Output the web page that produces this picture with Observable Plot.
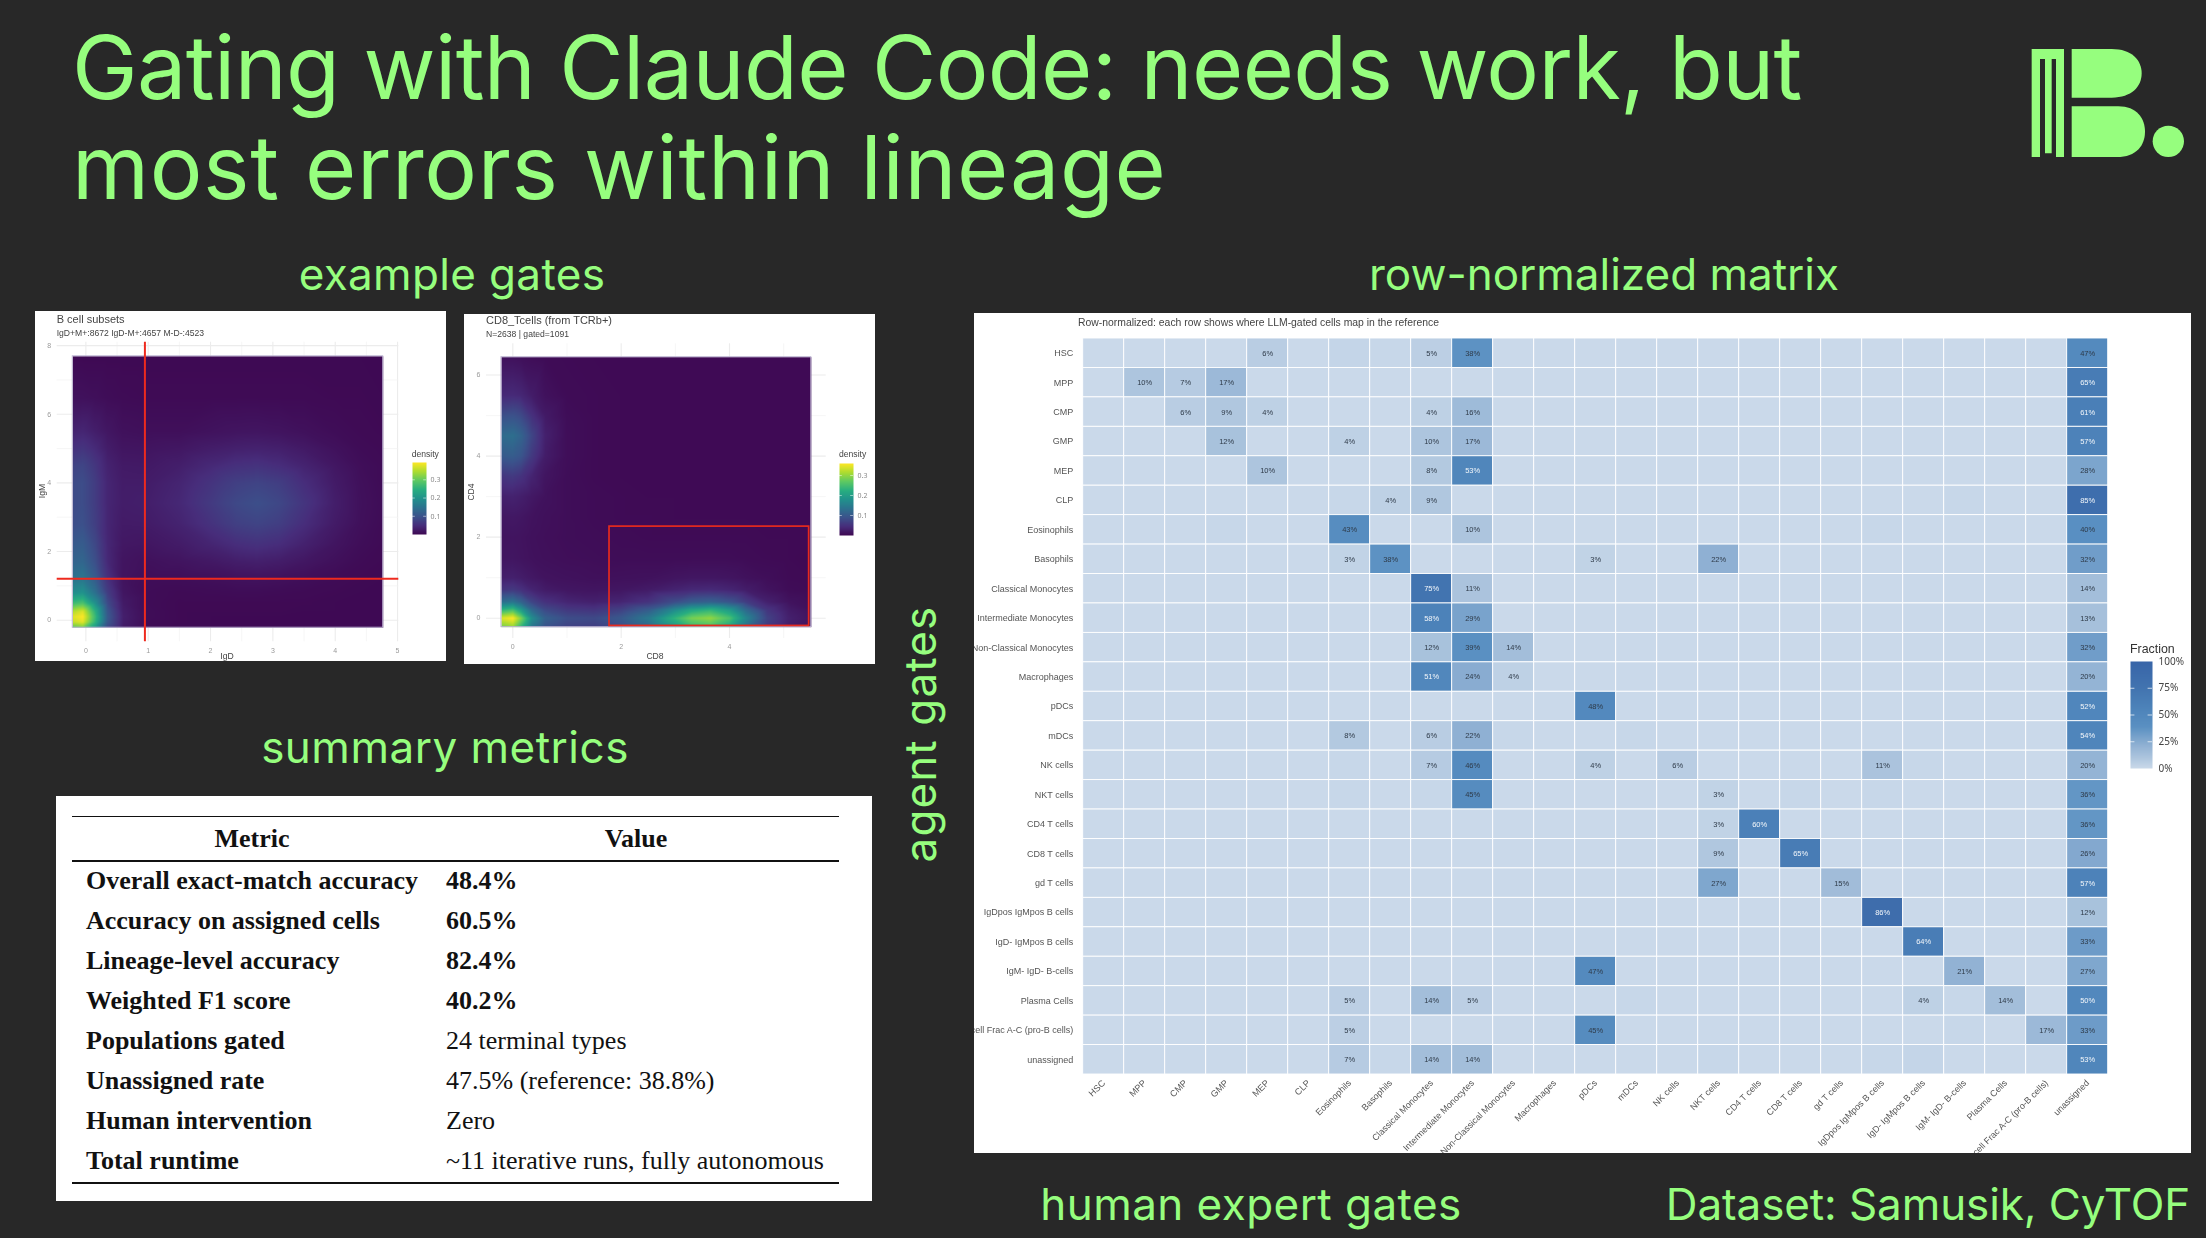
<!DOCTYPE html>
<html><head><meta charset="utf-8">
<script src="https://cdn.jsdelivr.net/npm/d3@7"></script>
<script src="https://cdn.jsdelivr.net/npm/@observablehq/plot@0.6"></script>
<style>
html,body{margin:0;padding:0;background:#282828;}
#slide{position:relative;width:2206px;height:1238px;background:#282828;overflow:hidden;font-family:"Liberation Sans",sans-serif;}
.abs{position:absolute;white-space:pre;line-height:1;}
.head{position:absolute;white-space:pre;line-height:1;color:#96fe7e;font-family:Inter,sans-serif;font-weight:400;transform:translate(-50%,-50%);}
.box{position:absolute;background:#fff;overflow:hidden;}
.box svg{position:absolute;left:0;top:0;overflow:hidden;background:transparent;max-width:none;}
.soft{filter:blur(.45px);}
</style></head><body>
<div id="slide"></div>
<script>
const rowLabels=["HSC","MPP","CMP","GMP","MEP","CLP","Eosinophils","Basophils","Classical Monocytes","Intermediate Monocytes","Non-Classical Monocytes","Macrophages","pDCs","mDCs","NK cells","NKT cells","CD4 T cells","CD8 T cells","gd T cells","IgDpos IgMpos B cells","IgD- IgMpos B cells","IgM- IgD- B-cells","Plasma Cells","B cell Frac A-C (pro-B cells)","unassigned"];
// row -> {column index: percent}
const matrixValues=[
{4:6,6:2,7:1,8:5,9:38,24:47},
{1:10,2:7,3:17,24:65},
{2:6,3:9,4:4,8:4,9:16,24:61},
{3:12,6:4,8:10,9:17,24:57},
{4:10,8:8,9:53,24:28},
{6:1,7:4,8:9,21:1,24:85},
{3:1,6:43,9:10,19:1,24:40},
{6:3,7:38,12:3,15:22,24:32},
{8:75,9:11,24:14},
{8:58,9:29,24:13},
{8:12,9:39,10:14,24:32},
{8:51,9:24,10:4,24:20},
{12:48,24:52},
{6:8,8:6,9:22,10:1,13:1,24:54},
{6:1,8:7,9:46,12:4,14:6,19:11,20:1,24:20},
{6:1,8:1,9:45,15:3,17:1,19:1,24:36},
{15:3,16:60,24:36},
{15:9,17:65,24:26},
{15:27,18:15,24:57},
{19:86,24:12},
{20:64,24:33},
{12:47,21:21,24:27},
{6:5,8:14,9:5,13:1,20:4,21:1,22:14,24:50},
{6:5,12:45,21:1,23:17,24:33},
{6:7,7:1,8:14,9:14,15:1,19:1,20:2,24:53}
];
const fractionDomain=[0,10,22,39,55,75,100];
const fractionRange=["#cad9ea","#adc5de","#8fb0d3","#5a90c2","#4e84ba","#4274b0","#3865a8"];
const fractionTicks=[0,25,50,75,100];
const viridisStops=["#3e0852","#472d7b","#3b528b","#2c728e","#21918c","#28ae80","#5ec962","#addc30","#fde725"];

const metricRows=["Overall exact-match accuracy","Accuracy on assigned cells","Lineage-level accuracy","Weighted F1 score","Populations gated","Unassigned rate","Human intervention","Total runtime"];
const metricValues=["48.4%","60.5%","82.4%","40.2%","24 terminal types","47.5% (reference: 38.8%)","Zero","~11 iterative runs, fully autonomous"];
const metricBold=[true,true,true,true,false,false,false,false];

// density panel A
const bX=[-0.21,-0.05,0.15,0.35,0.6,1,1.5,2,2.4,2.75,3.1,3.5,4,4.4,4.77];
const bY=[7.69,6.5,5.5,5,4.5,4,3.4,2.8,2.2,1.7,1.2,0.8,0.5,0.25,0.1,-0.05,-0.22];
const bDensity=[
[.002,.002,.002,.002,.002,.002,.002,.002,.002,.002,.002,.002,.002,.002,.002],
[.012,.012,.01,.007,.005,.004,.004,.004,.004,.004,.004,.004,.003,.003,.002],
[.036,.04,.03,.02,.012,.01,.01,.014,.017,.018,.016,.012,.007,.004,.003],
[.055,.06,.046,.028,.018,.017,.02,.028,.033,.035,.032,.024,.013,.006,.004],
[.078,.082,.062,.036,.024,.023,.03,.044,.054,.057,.05,.037,.02,.009,.005],
[.088,.092,.07,.04,.027,.027,.038,.058,.074,.08,.072,.05,.025,.011,.005],
[.088,.092,.07,.04,.028,.03,.042,.066,.086,.094,.084,.06,.029,.012,.006],
[.092,.097,.073,.04,.025,.026,.036,.056,.074,.08,.072,.05,.025,.011,.005],
[.11,.115,.085,.042,.021,.019,.026,.038,.05,.055,.049,.034,.017,.008,.004],
[.125,.13,.095,.044,.017,.012,.016,.022,.029,.032,.028,.02,.011,.005,.003],
[.15,.155,.115,.055,.016,.008,.008,.01,.013,.014,.012,.009,.005,.003,.002],
[.19,.2,.145,.07,.019,.006,.004,.005,.006,.006,.005,.004,.003,.002,.002],
[.265,.28,.195,.088,.025,.006,.003,.003,.003,.003,.003,.003,.002,.002,.002],
[.35,.375,.25,.105,.03,.007,.003,.003,.003,.003,.003,.002,.002,.002,.002],
[.375,.395,.265,.11,.032,.007,.003,.002,.002,.002,.002,.002,.002,.002,.002],
[.36,.38,.255,.105,.03,.006,.003,.002,.002,.002,.002,.002,.002,.002,.002],
[.29,.31,.21,.085,.025,.005,.002,.002,.002,.002,.002,.002,.002,.002,.002]
];
// density panel B
const tX=[-0.21,0,0.15,0.35,0.6,1,1.5,2,2.5,3,3.3,3.65,4,4.3,4.7,5.1,5.51];
const tY=[6.44,5.5,5,4.5,4,3.5,3,2.5,2,1.5,1,0.7,0.4,0.2,0,-0.22];
const tDensity=[
[.012,.012,.01,.007,.005,.004,.003,.003,.003,.003,.003,.003,.003,.003,.003,.003,.003],
[.04,.042,.038,.025,.012,.005,.004,.003,.003,.003,.003,.003,.003,.003,.003,.003,.003],
[.085,.09,.08,.05,.022,.007,.004,.003,.003,.003,.003,.003,.003,.003,.003,.003,.003],
[.125,.13,.115,.075,.03,.008,.004,.003,.003,.003,.003,.003,.003,.003,.003,.003,.003],
[.10,.105,.095,.06,.025,.008,.004,.003,.003,.003,.003,.003,.003,.003,.003,.003,.003],
[.055,.06,.052,.034,.016,.007,.004,.003,.003,.003,.003,.003,.003,.003,.003,.003,.003],
[.03,.032,.028,.02,.012,.007,.005,.004,.003,.003,.003,.003,.003,.003,.003,.003,.003],
[.018,.02,.018,.013,.01,.007,.005,.004,.004,.003,.003,.003,.003,.003,.003,.003,.003],
[.014,.015,.014,.011,.009,.007,.006,.005,.004,.004,.004,.004,.004,.004,.003,.003,.003],
[.016,.017,.015,.012,.01,.008,.007,.006,.006,.006,.006,.006,.006,.005,.004,.003,.002],
[.028,.03,.026,.02,.014,.012,.01,.011,.012,.016,.018,.018,.016,.012,.008,.004,.003],
[.055,.06,.05,.035,.024,.018,.016,.018,.024,.034,.04,.042,.036,.026,.014,.006,.004],
[.13,.14,.115,.075,.05,.036,.03,.036,.052,.085,.105,.112,.095,.065,.03,.014,.008],
[.235,.255,.2,.125,.08,.06,.055,.07,.105,.175,.215,.235,.195,.125,.055,.024,.012],
[.34,.36,.29,.175,.11,.085,.08,.1,.145,.235,.285,.3,.255,.165,.07,.03,.015],
[.28,.30,.235,.14,.09,.07,.065,.085,.12,.19,.235,.25,.21,.135,.06,.025,.012]
];
const slide=document.getElementById("slide");
function box(x,y,w,h,cls){const d=document.createElement("div");d.className="box "+(cls||"");d.style.cssText=`left:${x}px;top:${y}px;width:${w}px;height:${h}px`;slide.appendChild(d);return d;}
function txt(parent,s,x,y,css){const d=document.createElement("div");d.className="abs";d.textContent=s;d.style.cssText=`left:${x}px;top:${y}px;transform:translateY(-50%);${css}`;parent.appendChild(d);return d;}
function head(s,x,y,ls,extra){const d=document.createElement("div");d.className="head";d.textContent=s;d.style.cssText=`left:${x}px;top:${y}px;font-size:44px;letter-spacing:${ls}px;${extra||""}`;slide.appendChild(d);return d;}

// headings
[["Gating with Claude Code: needs work, but",17,-0.62],["most errors within lineage",117,0.63]].forEach(([s,top,ls])=>{
 const t=document.createElement("div");t.className="abs";t.style.cssText=`left:72px;top:${top}px;color:#96fe7e;font-family:Inter,sans-serif;font-size:88px;line-height:100px;letter-spacing:${ls}px;`;t.textContent=s;slide.appendChild(t);
});
head("example gates",452,274,.35);
head("row-normalized matrix",1604,274,0);
head("summary metrics",445,747,.5);
head("human expert gates",1251,1204,.45);
head("Dataset: Samusik, CyTOF",1928,1204,-.1);
head("agent gates",920,734,1.1,"transform:translate(-50%,-50%) rotate(-90deg);");

// logo
slide.insertAdjacentHTML("beforeend",`<svg style="position:absolute;left:1990px;top:30px" width="216" height="150" viewBox="0 0 648 450" aria-label="logo"><g fill="#96fe7e"><path fill-rule="evenodd" d="M125 57H222V381H198V87H185V370H165V87H150V381H125Z"/><path d="M245 57H365C425 57 455 90 455 130C455 170 425 203 365 203H245Z"/><path d="M245 229H385C440 229 465 265 465 305C465 345 440 381 380 381H245Z"/><circle cx="535" cy="334" r="47"/></g></svg>`);

// matrix
const matrixBox=box(974,313,1217,840,"soft");
const cells=[];
rowLabels.forEach((r,i)=>rowLabels.forEach((c,j)=>cells.push({row:r,col:c,v:matrixValues[i][j]||0})));
const fractionColor={type:"linear",domain:fractionDomain,range:fractionRange};
const matrix=Plot.plot({
 width:1217,height:840,marginLeft:108.7,marginRight:83.3,marginTop:25,marginBottom:79,
 style:{background:"transparent",overflow:"hidden",fontFamily:"Liberation Sans"},
 x:{type:"band",domain:rowLabels,padding:0,round:false,label:null},
 y:{type:"band",domain:rowLabels,padding:0,round:false,label:null},
 color:fractionColor,
 marks:[
  Plot.cell(cells,{x:"col",y:"row",fill:"v",stroke:"#ffffff",strokeWidth:.9}),
  Plot.text(cells.filter(d=>d.v>=3),{x:"col",y:"row",text:d=>d.v+"%",fontSize:7.5,fill:d=>d.v>=50?"#f2f6fa":"#2e3a48"}),
  Plot.axisY({tickSize:0,tickPadding:10,fontSize:9,color:"#555",label:null,tickFormat:d=>d}),
  Plot.axisX({tickSize:0,tickPadding:7,fontSize:9,color:"#555",label:null,tickRotate:-45,tickFormat:d=>d})
 ]});
matrixBox.appendChild(matrix);
txt(matrixBox,"Row-normalized: each row shows where LLM-gated cells map in the reference",104,10,"font-size:10.4px;color:#444;");
txt(matrixBox,"Fraction",1156,336,"font-size:12.4px;color:#333;");

// fraction legend
const fracLegend=Plot.plot({
 width:70,height:120,marginLeft:0,marginRight:48,marginTop:10,marginBottom:3,
 style:{background:"transparent",overflow:"visible",fontFamily:"Liberation Sans"},
 x:{domain:[0,1],axis:null},
 y:{domain:[0,100],label:null},
 color:fractionColor,
 marks:[
  Plot.raster({x1:0,x2:1,y1:0,y2:100,fill:(x,y)=>y,pixelSize:1}),
  Plot.ruleY([25,50,75],{x1:0,x2:.2,stroke:"#fff",strokeWidth:.7}),
  Plot.ruleY([25,50,75],{x1:.8,x2:1,stroke:"#fff",strokeWidth:.7}),
  Plot.axisY({anchor:"right",ticks:fractionTicks,tickSize:0,tickPadding:6,fontSize:10,color:"#444",tickFormat:d=>d+"%",label:null})
 ]});
fracLegend.style.cssText="position:absolute;left:1156px;top:338px;overflow:visible;background:transparent";
matrixBox.appendChild(fracLegend);

// density panels
function densityPanel(o){
 const b=box(o.bx,o.by,o.bw,o.bh,"soft");
 const pts=[];
 o.ys.forEach((y,i)=>o.xs.forEach((x,j)=>pts.push({x,y,v:o.values[i][j]})));
 const m=o.margins;
 const stopDomain=viridisStops.map((_,i)=>o.cDomain[0]+(o.cDomain[1]-o.cDomain[0])*i/(viridisStops.length-1));
 const dColor={type:"linear",domain:stopDomain,range:viridisStops};
 const p=Plot.plot({
  width:o.bw,height:o.bh,marginLeft:m[0],marginRight:m[1],marginTop:m[2],marginBottom:m[3],
  style:{background:"transparent",overflow:"hidden",fontFamily:"Liberation Sans"},
  x:{domain:o.xDomain,label:null},y:{domain:o.yDomain,label:null},
  color:dColor,
  marks:[
   Plot.ruleX(o.xMinor,{stroke:"#f2f2f2",strokeWidth:.7}),
   Plot.ruleX(o.xMajor,{stroke:"#ececec",strokeWidth:1.1}),
   Plot.ruleY(o.yMinor,{stroke:"#f2f2f2",strokeWidth:.7}),
   Plot.ruleY(o.yMajor,{stroke:"#ececec",strokeWidth:1.1}),
   Plot.raster(pts,{x:"x",y:"y",fill:"v",interpolate:"barycentric",pixelSize:1,x1:o.heatX[0],x2:o.heatX[1],y1:o.heatY[0],y2:o.heatY[1]}),
   Plot.rect([0],{x1:o.heatX[0],x2:o.heatX[1],y1:o.heatY[0],y2:o.heatY[1],stroke:"#bdb4d2",strokeWidth:1,fill:"none"}),
   ...o.gate,
   Plot.axisX({ticks:o.xTicks,tickSize:0,tickPadding:6,fontSize:7,color:"#9a9a9a",tickFormat:d=>d,label:null}),
   Plot.axisY({ticks:o.yTicks,tickSize:0,tickPadding:6,fontSize:7,color:"#9a9a9a",tickFormat:d=>d,label:null})
  ]});
 b.appendChild(p);
 txt(b,o.title,o.tx,o.ty,"font-size:11px;color:#444;");
 txt(b,o.sub,o.tx,o.ty+14.3,"font-size:8.6px;color:#444;");
 const xl=txt(b,o.xLabel,o.xlx,o.xly,"font-size:8.6px;color:#444;");
 xl.style.transform="translate(-50%,-50%)";
 const yl=txt(b,o.yLabel,o.ylx,o.yly,"font-size:8.6px;color:#444;");
 yl.style.transform="translate(-50%,-50%) rotate(-90deg)";
 txt(b,"density",o.lx,o.ly,"font-size:8.6px;color:#444;");
 const lg=Plot.plot({
  width:36,height:72,marginLeft:0,marginRight:22,marginTop:0,marginBottom:0,
  style:{background:"transparent",overflow:"visible",fontFamily:"Liberation Sans"},
  x:{domain:[0,1],axis:null},y:{domain:o.cDomain,label:null},
  color:dColor,
  marks:[
   Plot.raster({x1:0,x2:1,y1:o.cDomain[0],y2:o.cDomain[1],fill:(x,y)=>y,pixelSize:1}),
   Plot.ruleY([.1,.2,.3],{x1:0,x2:.2,stroke:"#fff",strokeWidth:.5}),
   Plot.ruleY([.1,.2,.3],{x1:.8,x2:1,stroke:"#fff",strokeWidth:.5}),
   Plot.axisY({anchor:"right",ticks:[.1,.2,.3],tickSize:0,tickPadding:4,fontSize:7,color:"#888",tickFormat:d=>d,label:null})
  ]});
 lg.style.cssText=`position:absolute;left:${o.lx}px;top:${o.ly+8.5}px;overflow:visible;background:transparent`;
 b.appendChild(lg);
}
densityPanel({bx:35,by:311,bw:411,bh:350,margins:[21.7,47.7,30.7,19.7],
 xDomain:[-0.46,5.02],yDomain:[-0.63,8.1],heatX:[-0.21,4.77],heatY:[-0.22,7.69],
 xs:bX,ys:bY,values:bDensity,cDomain:[0,.395],
 xMajor:[0,1,2,3,4,5],xMinor:[.5,1.5,2.5,3.5,4.5],yMajor:[0,2,4,6,8],yMinor:[1,3,5,7],
 xTicks:[0,1,2,3,4,5],yTicks:[0,2,4,6,8],xLabel:"IgD",yLabel:"IgM",xlx:192,xly:345,
 gate:[Plot.ruleX([0.947],{stroke:"#ee2a1e",strokeWidth:2}),Plot.ruleY([1.21],{stroke:"#ee2a1e",strokeWidth:2})],
 title:"B cell subsets",sub:"IgD+M+:8672 IgD-M+:4657 M-D-:4523",tx:21.7,ty:8,ylx:6.7,yly:180,lx:376.7,ly:142.7});
densityPanel({bx:464,by:314,bw:411,bh:350,margins:[22,49.3,29.3,26],
 xDomain:[-0.486,5.785],yDomain:[-0.5,6.77],heatX:[-0.21,5.51],heatY:[-0.22,6.44],
 xs:tX,ys:tY,values:tDensity,cDomain:[0,.36],
 xMajor:[0,2,4],xMinor:[1,3,5],yMajor:[0,2,4,6],yMinor:[1,3,5],
 xTicks:[0,2,4],yTicks:[0,2,4,6],xLabel:"CD8",yLabel:"CD4",xlx:191,xly:342,
 gate:[Plot.rect([0],{x1:1.785,x2:5.47,y1:-0.19,y2:2.26,stroke:"#e62a1e",strokeWidth:1.7,fill:"none"})],
 title:"CD8_Tcells (from TCRb+)",sub:"N=2638 | gated=1091",tx:22,ty:5.7,ylx:6.7,yly:177.7,lx:375,ly:140});

// summary table
const tb=box(56,796,816,405);
const serif='font-family:"Liberation Serif",serif;color:#111;';
function rule(y,h){const d=document.createElement("div");d.style.cssText=`position:absolute;left:16px;width:767px;top:${y}px;height:${h}px;background:#111`;tb.appendChild(d);}
rule(19.5,1.6);rule(64,1.6);rule(385.7,2);
const hm=txt(tb,"Metric",196,43.3,serif+"font-size:26px;font-weight:700;");hm.style.transform="translate(-50%,-50%)";
const hv=txt(tb,"Value",580,43.3,serif+"font-size:26px;font-weight:700;");hv.style.transform="translate(-50%,-50%)";
metricRows.forEach((m,i)=>{
 txt(tb,m,30,84.7+40*i,serif+"font-size:26px;font-weight:700;");
 txt(tb,metricValues[i],390,84.7+40*i,serif+"font-size:26px;"+(metricBold[i]?"font-weight:700;":""));
});
</script></body></html>
